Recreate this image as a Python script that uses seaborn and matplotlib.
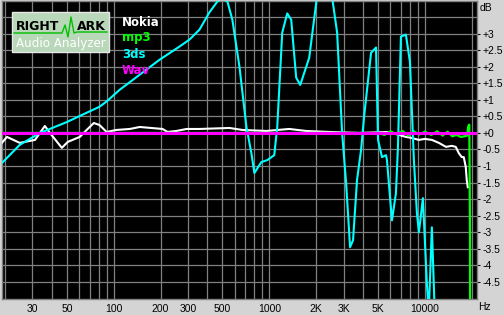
import matplotlib
matplotlib.use("Agg")
import matplotlib.pyplot as plt
import matplotlib.patches as patches
from matplotlib.lines import Line2D
import seaborn as sns
import pandas as pd

# ---------------- data ----------------
nokia_freq = [19.1, 20.6, 24.9, 31.2, 36.1, 38.9, 46.4, 50.7, 60.5, 67, 74.5, 81, 90, 104, 127, 147,
              206, 222, 253, 294, 356, 554, 672, 957, 1343, 1726, 2427, 3776, 5875, 6700, 7551,
              8200, 9155, 10000, 11090, 12300, 13650, 14900, 15800, 16520, 17270, 17780, 18320,
              18580, 18870]
nokia_db = [-0.30, -0.12, -0.30, -0.21, 0.21, 0.0, -0.45, -0.27, -0.12, 0.09, 0.30, 0.24, 0.03, 0.09,
            0.12, 0.18, 0.12, 0.03, 0.06, 0.12, 0.12, 0.15, 0.09, 0.06, 0.12, 0.06, 0.03, 0.0, 0.03,
            -0.05, -0.12, -0.15, -0.21, -0.18, -0.21, -0.30, -0.42, -0.39, -0.42, -0.61, -0.73,
            -0.73, -1.03, -1.42, -1.64]

mp3_freq = [19.1, 5000, 5500, 6000, 6600, 7200, 7800, 8500, 9200, 10000, 11000, 12000, 13000, 14000,
            15000, 16000, 17000, 18000, 18700, 19000, 19300, 19500, 19550]
mp3_db = [0, 0, -0.06, 0.05, -0.04, 0.06, -0.08, 0.05, -0.05, 0.04, -0.06, 0.05, -0.08, 0.04, -0.10,
          -0.06, -0.12, -0.10, -0.08, 0.20, 0.25, -3.0, -8.0]

ds_freq = [19.1, 24.9, 33.6, 50, 67, 81, 90, 109, 147, 197, 265, 307, 356, 412, 464, 500, 538, 579,
           643, 713, 767, 802, 889, 971, 1076, 1125, 1211, 1304, 1383, 1489, 1581, 1805, 2252, 2729,
           2938, 3118, 3305, 3454, 3664, 3888, 4065, 4509, 4853, 5000, 5302, 5623, 5705, 6143, 6516,
           6713, 7015, 7551, 8014, 8500, 8888, 9155, 9711, 10300, 10600, 11090, 11590, 12300, 14000]
ds_db = [-0.91, -0.36, 0.0, 0.33, 0.61, 0.79, 0.95, 1.30, 1.76, 2.21, 2.61, 2.82, 3.12, 3.64, 3.97,
         4.05, 3.97, 3.42, 2.0, 0.18, -0.61, -1.21, -0.88, -0.82, -0.67, 0.18, 3.03, 3.61, 3.42,
         1.67, 1.45, 2.27, 5.8, 3.03, 0.0, -1.52, -3.45, -3.24, -1.42, -0.52, 0.48, 2.42, 2.58,
         -0.21, -0.73, -0.67, -0.82, -2.64, -1.82, -0.42, 2.91, 2.97, 2.15, -0.82, -2.42, -3.0,
         -1.97, -4.55, -5.4, -2.85, -5.5, -7.0, -8.0]

wav_freq = [18, 22000]
wav_db = [0, 0]

series_names = ["Nokia", "mp3", "3ds", "Wav"]
series_colors = ["#ffffff", "#00ff00", "#00ffff", "#ff00ff"]

x_ticks = [30, 50, 100, 200, 300, 500, 1000, 2000, 3000, 5000, 10000]
x_ticklabels = ["30", "50", "100", "200", "300", "500", "1000", "2K", "3K", "5K", "10000"]
x_grid = [20, 30, 40, 50, 60, 70, 80, 90, 100, 200, 300, 400, 500, 600, 700, 800, 900, 1000,
          2000, 3000, 4000, 5000, 6000, 7000, 8000, 9000, 10000, 20000]
y_ticks = [3, 2.5, 2, 1.5, 1, 0.5, 0, -0.5, -1, -1.5, -2, -2.5, -3, -3.5, -4, -4.5]
y_ticklabels = ["+3", "+2.5", "+2", "+1.5", "+1", "+0.5", "+0", "-0.5", "-1", "-1.5", "-2",
                "-2.5", "-3", "-3.5", "-4", "-4.5"]

# ---------------- figure ----------------
W, H = 504, 315
BG = "#d4d4d4"
fig = plt.figure(figsize=(W / 100, H / 100), dpi=100, facecolor=BG)

def fx(px):
    return px / W

def fy(py):
    return 1 - py / H

ax = fig.add_axes([fx(1.5), fy(298.5), fx(476.5) - fx(1.5), fy(0.5) - fy(298.5)])
ax.set_facecolor("black")
ax.set_xscale("log")
ax.set_xlim(19.0, 21470)
ax.set_ylim(-5, 4)

# grid
for g in x_grid:
    ax.axvline(g, color="#808080", lw=0.9, zorder=1)
for g in [3.5, 3, 2.5, 2, 1.5, 1, 0.5, 0, -0.5, -1, -1.5, -2, -2.5, -3, -3.5, -4, -4.5]:
    ax.axhline(g, color="#808080", lw=0.9, zorder=1)

df_n = pd.DataFrame({"f": nokia_freq, "db": nokia_db})
df_m = pd.DataFrame({"f": mp3_freq, "db": mp3_db})
df_d = pd.DataFrame({"f": ds_freq, "db": ds_db})
df_w = pd.DataFrame({"f": wav_freq, "db": wav_db})

sns.lineplot(data=df_n, x="f", y="db", ax=ax, color=series_colors[0], lw=1.5,
             sort=False, estimator=None, zorder=3)
sns.lineplot(data=df_m, x="f", y="db", ax=ax, color=series_colors[1], lw=1.6,
             sort=False, estimator=None, zorder=4)
sns.lineplot(data=df_d, x="f", y="db", ax=ax, color=series_colors[2], lw=1.5,
             sort=False, estimator=None, zorder=5)
sns.lineplot(data=df_w, x="f", y="db", ax=ax, color=series_colors[3], lw=2.2,
             sort=False, estimator=None, zorder=6)

ax.set_xlabel("")
ax.set_ylabel("")
ax.minorticks_off()
ax.set_xticks(x_ticks)
ax.set_xticklabels(x_ticklabels)
ax.set_yticks(y_ticks)
ax.set_yticklabels(y_ticklabels)
ax.yaxis.tick_right()
ax.tick_params(axis="x", length=0, pad=4, labelsize=7.5, colors="black")
ax.tick_params(axis="y", length=2, width=0.8, pad=2, labelsize=7.5, colors="black",
               direction="out", right=True, left=False)
for lbl in ax.get_xticklabels() + ax.get_yticklabels():
    lbl.set_fontfamily("Liberation Sans")
for sp in ax.spines.values():
    sp.set_color("#808080")
    sp.set_linewidth(1.0)

fig.text(fx(480), fy(8), "dB", fontsize=7.5, family="Liberation Sans", va="center", ha="left")
fig.text(fx(478), fy(307), "Hz", fontsize=7.5, family="Liberation Sans", va="center", ha="left")

# legend (coloured labels)
for i, (name, col) in enumerate(zip(series_names, series_colors)):
    fig.text(fx(122), fy(22 + 16 * i), name, color=col, fontsize=8.5, fontweight="bold",
             family="DejaVu Sans", va="center", ha="left")

# logo
fig.patches.append(patches.Rectangle((fx(12), fy(52)), fx(97), fy(12) - fy(52),
                                     transform=fig.transFigure, facecolor="#b9d7b9",
                                     edgecolor="#e8e8e8", lw=1.0, zorder=10))
fig.text(fx(16), fy(26.5), "RIGHT", fontsize=9, fontweight="bold", family="DejaVu Sans",
         color="black", va="center", ha="left", zorder=11)
fig.text(fx(77), fy(26.5), "ARK", fontsize=9, fontweight="bold", family="DejaVu Sans",
         color="black", va="center", ha="left", zorder=11)
wx = [14, 62, 65, 68, 71, 74, 77, 107]
wy = [33, 33, 25, 37, 17, 33, 32, 32]
fig.lines.append(Line2D([fx(v) for v in wx], [fy(v) for v in wy], transform=fig.transFigure,
                        color="#00c000", lw=1.0, zorder=12))
fig.text(fx(60.5), fy(43.5), "Audio Analyzer", fontsize=8.6, family="DejaVu Sans",
         color="white", va="center", ha="center", zorder=11)

fig.savefig("out.png", dpi=100, facecolor=BG)
